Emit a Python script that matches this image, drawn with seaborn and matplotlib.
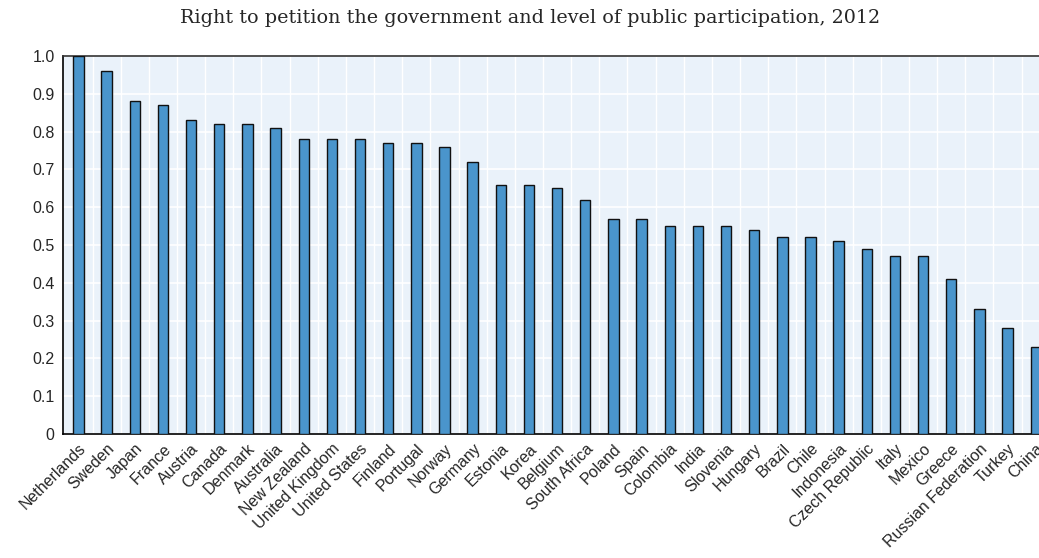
import numpy as np
import pandas as pd
import seaborn as sns
import matplotlib.pyplot as plt

countries = ["Netherlands", "Sweden", "Japan", "France", "Austria", "Canada", "Denmark",
             "Australia", "New Zealand", "United Kingdom", "United States", "Finland",
             "Portugal", "Norway", "Germany", "Estonia", "Korea", "Belgium", "South Africa",
             "Poland", "Spain", "Colombia", "India", "Slovenia", "Hungary", "Brazil", "Chile",
             "Indonesia", "Czech Republic", "Italy", "Mexico", "Greece", "Russian Federation",
             "Turkey", "China"]
values = [1.00, 0.96, 0.88, 0.87, 0.83, 0.82, 0.82, 0.81, 0.78, 0.78, 0.78, 0.77, 0.77,
          0.76, 0.72, 0.66, 0.66, 0.65, 0.62, 0.57, 0.57, 0.55, 0.55, 0.55, 0.54, 0.52,
          0.52, 0.51, 0.49, 0.47, 0.47, 0.41, 0.33, 0.28, 0.23]
y_ticks = [0, 0.1, 0.2, 0.3, 0.4, 0.5, 0.6, 0.7, 0.8, 0.9, 1.0]
y_labels = ["0", "0.1", "0.2", "0.3", "0.4", "0.5", "0.6", "0.7", "0.8", "0.9", "1.0"]
subtitle = "Right to petition the government and level of public participation, 2012"

df = pd.DataFrame({"country": countries, "value": values})

sns.set_theme(style="white")
plt.rcParams['font.family'] = ['Liberation Sans Narrow', 'Liberation Sans', 'DejaVu Sans']

fig = plt.figure(figsize=(10.39, 5.58), dpi=100)
ax = fig.add_axes([63 / 1039, 1 - 434 / 558, 1 - 63 / 1039 + 0.002, (434 - 56) / 558])
ax.set_facecolor("#EAF2FA")

sns.barplot(data=df, x="country", y="value", color="#4A95CC", saturation=1,
            width=0.37, edgecolor="#111111", linewidth=1.0, ax=ax, zorder=3)

n = len(countries)
ax.set_xlim(-0.55, n - 1 + 0.19)
ax.set_ylim(0, 1.0)
ax.set_yticks(y_ticks)
ax.set_yticklabels(y_labels, fontsize=11.5)
ax.set_xticks(range(n))
ax.set_xticklabels(countries, rotation=45, ha="right", rotation_mode="anchor", fontsize=11.5)
ax.set_xticks(np.arange(n - 1) + 0.5, minor=True)
ax.tick_params(axis="x", which="major", length=0, pad=5)
ax.tick_params(axis="x", which="minor", direction="in", length=6, color="#555555", width=1)
ax.tick_params(axis="y", which="major", direction="in", length=6, color="#333333", width=1, pad=6)

ax.grid(True, axis="y", which="major", color="white", linewidth=1.2, zorder=1)
ax.grid(True, axis="x", which="minor", color="white", linewidth=1.0, zorder=1)
ax.set_axisbelow(True)

for side in ["left", "bottom", "top"]:
    ax.spines[side].set_color("black")
    ax.spines[side].set_linewidth(1.2)
ax.spines["top"].set_color("#333333")
ax.spines["right"].set_visible(False)
ax.set_xlabel("")
ax.set_ylabel("")

fig.text(0.51, 1 - 18 / 558, subtitle, ha="center", va="center", fontsize=13.8,
         family=["DejaVu Serif"])

fig.savefig("out.png", dpi=100)
